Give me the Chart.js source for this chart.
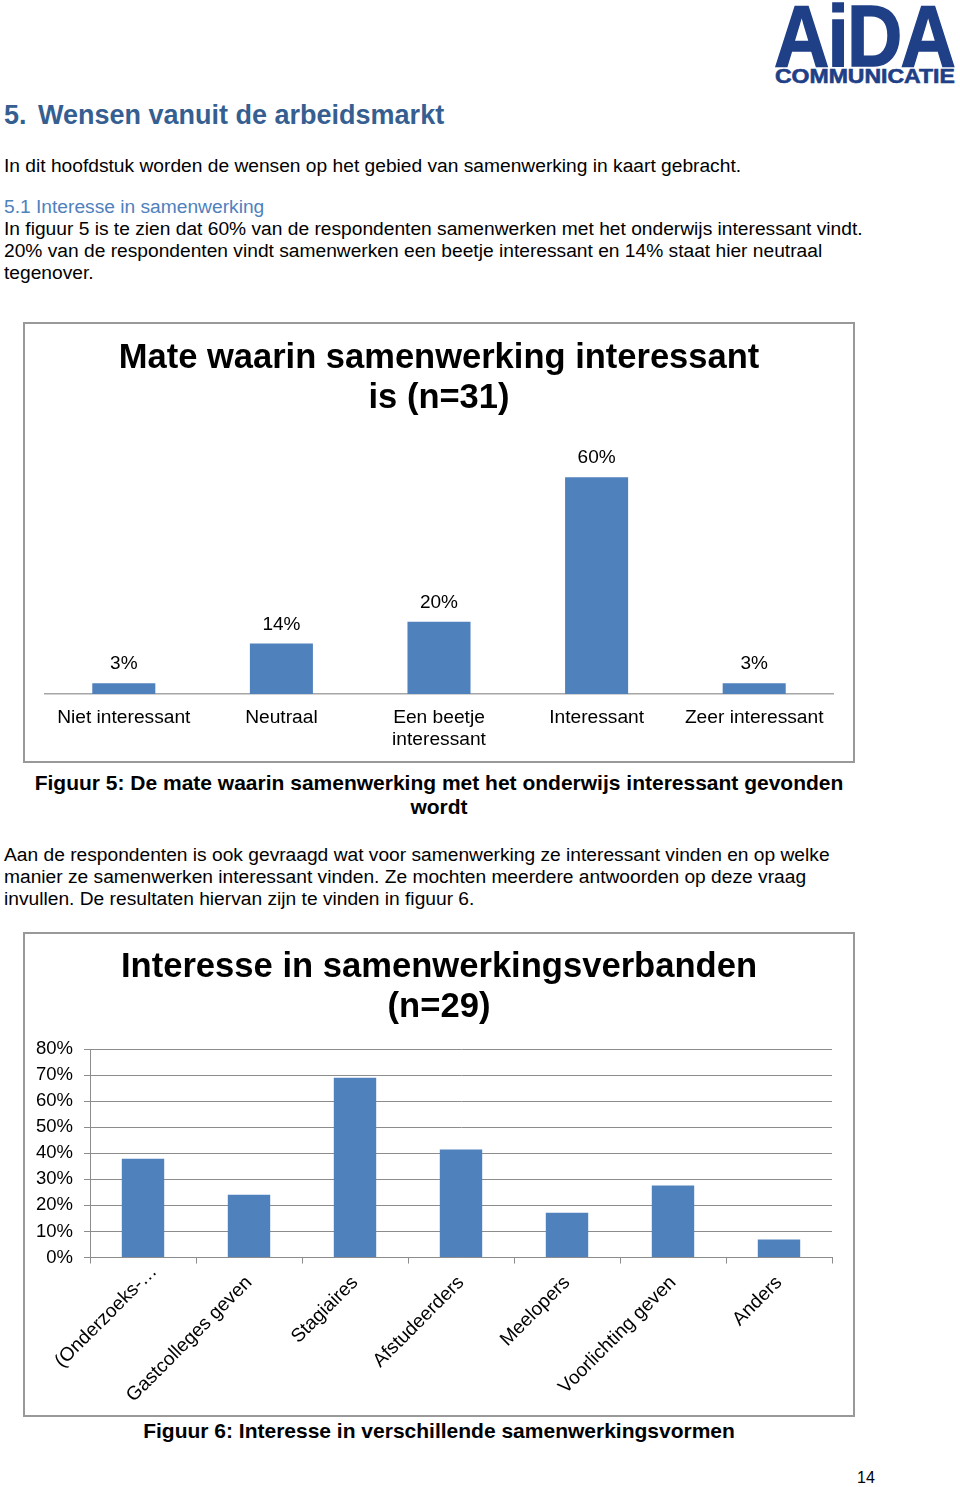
<!DOCTYPE html>
<html>
<head>
<meta charset="utf-8">
<script src="https://cdn.jsdelivr.net/npm/chart.js@4/dist/chart.umd.min.js"></script>
<style>
  html, body { margin:0; padding:0; background:#fff; }
  body { width:960px; height:1487px; position:relative; overflow:hidden; font-family:Arial, "Liberation Sans", sans-serif; color:#000; }
  .t { position:absolute; white-space:nowrap; font-size:19.2px; line-height:22px; }
  .h1 { font-weight:bold; font-size:27px; color:#365f91; line-height:30px; }
  .h2 { color:#4f81bd; }
  .cap { font-weight:bold; font-size:21px; text-align:center; line-height:24px; }
  .box { position:absolute; border:2px solid #999; box-sizing:border-box; background:#fff; }
  .box canvas { position:absolute; left:0; top:0; }
  .logo1 { position:absolute; left:774px; top:-8px; font-weight:900; font-size:87px; line-height:1; color:#1f3f86; transform-origin:0 0; transform:scaleX(0.88); letter-spacing:-2px; -webkit-text-stroke:1.5px #1f3f86; }
  .logo2 { position:absolute; left:775px; top:66px; font-weight:900; font-size:20px; line-height:1; color:#1f3f86; transform-origin:0 0; transform:scaleX(1.15); -webkit-text-stroke:0.6px #1f3f86; }
</style>
</head>
<body>
<div class="logo1">AiDA</div>
<div class="logo2">COMMUNICATIE</div>

<div class="t h1" style="left:4px;top:100px;"><span style="display:inline-block;width:34px;">5.</span>Wensen vanuit de arbeidsmarkt</div>
<div class="t" style="left:4px;top:155px;">In dit hoofdstuk worden de wensen op het gebied van samenwerking in kaart gebracht.</div>
<div class="t h2" style="left:4px;top:196px;">5.1 Interesse in samenwerking</div>
<div class="t" style="left:4px;top:218px;">In figuur 5 is te zien dat 60% van de respondenten samenwerken met het onderwijs interessant vindt.</div>
<div class="t" style="left:4px;top:240px;">20% van de respondenten vindt samenwerken een beetje interessant en 14% staat hier neutraal</div>
<div class="t" style="left:4px;top:262px;">tegenover.</div>

<div class="box" style="left:23px;top:322px;width:832px;height:441px;"><canvas id="c1"></canvas></div>

<div class="t cap" style="left:0;width:878px;top:771px;">Figuur 5: De mate waarin samenwerking met het onderwijs interessant gevonden<br>wordt</div>

<div class="t" style="left:4px;top:844px;">Aan de respondenten is ook gevraagd wat voor samenwerking ze interessant vinden en op welke</div>
<div class="t" style="left:4px;top:866px;">manier ze samenwerken interessant vinden. Ze mochten meerdere antwoorden op deze vraag</div>
<div class="t" style="left:4px;top:888px;">invullen. De resultaten hiervan zijn te vinden in figuur 6.</div>

<div class="box" style="left:23px;top:932px;width:832px;height:485px;"><canvas id="c2"></canvas></div>

<div class="t cap" style="left:0;width:878px;top:1419px;">Figuur 6: Interesse in verschillende samenwerkingsvormen</div>

<div class="t" style="left:857px;top:1467px;font-size:16px;">14</div>

<script>
// ---------- Data ----------
const categories1 = ['Niet interessant', 'Neutraal', ['Een beetje', 'interessant'], 'Interessant', 'Zeer interessant'];
const values1 = [3, 14, 20, 60, 3];
const title1 = ['Mate waarin samenwerking interessant', 'is (n=31)'];

const categories2 = ['(Onderzoeks-…', 'Gastcolleges geven', 'Stagiaires', 'Afstudeerders', 'Meelopers', 'Voorlichting geven', 'Anders'];
const values2 = [37.9, 24.1, 69.0, 41.4, 17.2, 27.6, 6.9];
const title2 = ['Interesse in samenwerkingsverbanden', '(n=29)'];
const yTicks2 = [0, 10, 20, 30, 40, 50, 60, 70, 80];

const BAR = '#4f81bd';
const FONT = 'Arial, "Liberation Sans", sans-serif';

const valueLabels = {
  id: 'valueLabels',
  afterDatasetsDraw(chart, args, opts) {
    if (!opts.show) return;
    const ctx = chart.ctx;
    const meta = chart.getDatasetMeta(0);
    ctx.save();
    ctx.font = '19px ' + FONT;
    ctx.fillStyle = '#000';
    ctx.textAlign = 'center';
    ctx.textBaseline = 'middle';
    meta.data.forEach((bar, i) => {
      ctx.fillText(chart.data.datasets[0].data[i] + '%', bar.x, bar.y - 19);
    });
    ctx.restore();
  }
};

// Excel places the truncated first label a little further along its slant
const firstLabelShift = {
  id: 'firstLabelShift',
  beforeDraw(chart, args, opts) {
    if (!opts.shift) return;
    const items = chart.scales.x.getLabelItems();
    if (items.length && !items[0]._shifted) {
      items[0].options.translation[0] += opts.shift;
      items[0].options.translation[1] -= opts.shift;
      items[0]._shifted = true;
    }
  }
};
Chart.register(valueLabels, firstLabelShift);

function makeCanvas(id, w, h) {
  const c = document.getElementById(id);
  c.width = w; c.height = h;
  c.style.width = w + 'px'; c.style.height = h + 'px';
  return c;
}

// ---------- Chart 1 ----------
new Chart(makeCanvas('c1', 828, 447), {
  type: 'bar',
  data: { labels: categories1, datasets: [{ data: values1, backgroundColor: BAR, borderWidth: 0, categoryPercentage: 1, barPercentage: 0.4 }] },
  options: {
    responsive: false, animation: false, devicePixelRatio: 1,
    layout: { padding: { left: 20, right: 20, top: 0, bottom: 7 } },
    plugins: {
      legend: { display: false }, tooltip: { enabled: false },
      title: { display: true, text: title1, color: '#000', font: { family: FONT, size: 34.5, weight: 'bold', lineHeight: '40px' }, padding: { top: 14, bottom: 23 } },
      valueLabels: { show: true },
      firstLabelShift: { shift: 0 }
    },
    scales: {
      x: {
        grid: { display: false, drawTicks: false },
        border: { display: true, color: '#a6a6a6', width: 1.5 },
        ticks: { color: '#000', font: { family: FONT, size: 19.2, lineHeight: '22px' }, padding: 13, maxRotation: 0, minRotation: 0, autoSkip: false }
      },
      y: { display: false, min: 0, max: 70 }
    }
  }
});

// ---------- Chart 2 ----------
new Chart(makeCanvas('c2', 828, 483), {
  type: 'bar',
  data: { labels: categories2, datasets: [{ data: values2, backgroundColor: BAR, borderWidth: 0, categoryPercentage: 1, barPercentage: 0.4 }] },
  options: {
    responsive: false, animation: false, devicePixelRatio: 1,
    layout: { padding: { left: 0, right: 0, top: 0, bottom: 2 } },
    plugins: {
      legend: { display: false }, tooltip: { enabled: false },
      title: { display: true, text: title2, color: '#000', font: { family: FONT, size: 34.6, weight: 'bold', lineHeight: '40px' }, padding: { top: 13, bottom: 22 } },
      valueLabels: { show: false },
      firstLabelShift: { shift: 11 }
    },
    scales: {
      x: {
        grid: { display: true, drawOnChartArea: false, drawTicks: true, tickLength: 6, color: '#8c8c8c' },
        border: { display: true, color: '#8c8c8c', width: 1 },
        ticks: { color: '#000', font: { family: FONT, size: 19.2 }, padding: 8, maxRotation: 45, minRotation: 45, autoSkip: false }
      },
      y: {
        min: yTicks2[0], max: yTicks2[yTicks2.length - 1],
        afterFit(scale) { scale.width = 65; },
        grid: { display: true, color: '#8c8c8c', tickLength: 6, drawTicks: true },
        border: { display: true, color: '#8c8c8c', width: 1 },
        ticks: { stepSize: yTicks2[1] - yTicks2[0], color: '#000', font: { family: FONT, size: 18.5 }, padding: 11, callback: (v) => v + '%' }
      },
      // empty right-hand spacer so the title stays centred over the frame
      spacer: {
        type: 'linear', position: 'right', display: true,
        afterFit(scale) { scale.width = 21; },
        grid: { display: false, drawTicks: false },
        border: { display: false },
        ticks: { display: false }
      }
    }
  }
});
</script>
</body>
</html>
